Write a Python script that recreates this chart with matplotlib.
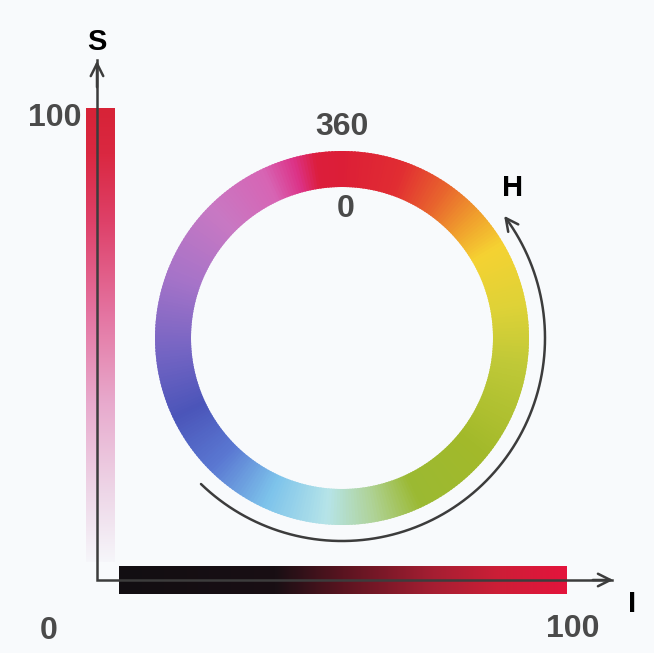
import numpy as np
import matplotlib
matplotlib.use("Agg")
import matplotlib.pyplot as plt
from matplotlib.patches import Wedge, FancyArrowPatch
from matplotlib.path import Path

# hue ring: angle clockwise from top (deg) -> colour
hue_angles = [0, 20, 35, 48, 60, 80, 100, 130, 155, 170, 185, 205, 225, 245, 265, 290, 315, 335, 345, 352, 360]
hue_colors = [(220, 30, 55), (225, 45, 50), (232, 100, 45), (240, 160, 45), (245, 210, 50),
              (222, 210, 55), (190, 200, 55), (162, 185, 42), (155, 185, 50), (175, 210, 150),
              (182, 228, 232), (125, 195, 235), (90, 120, 210), (75, 85, 185), (115, 100, 195),
              (165, 115, 200), (200, 120, 195), (215, 100, 180), (220, 50, 135), (220, 30, 60),
              (220, 30, 55)]

# saturation bar: 0 (bottom) .. 1 (top)
sat_pos = [0.0, 0.15, 0.35, 0.55, 0.75, 0.9, 1.0]
sat_colors = [(246, 246, 250), (238, 215, 232), (232, 170, 205), (228, 115, 160),
              (222, 65, 105), (218, 40, 65), (215, 35, 55)]

# intensity bar: 0 (left) .. 1 (right)
int_pos = [0.0, 0.35, 0.5, 0.7, 0.85, 1.0]
int_colors = [(18, 14, 18), (25, 15, 20), (90, 20, 32), (165, 30, 50), (205, 30, 55), (228, 20, 60)]

hue_labels = ["360", "0", "H"]
axis_labels = ["S", "I"]
tick_labels = ["0", "100"]

BG = "#f8fafc"
INK = "#3c3c3c"


def interp_colors(pos, cols, t):
    cols = np.array(cols) / 255.0
    return np.stack([np.interp(t, pos, cols[:, k]) for k in range(3)], axis=-1)


fig = plt.figure(figsize=(6.54, 6.53), dpi=100, facecolor=BG)
ax = fig.add_axes([0, 0, 1, 1])
ax.set_facecolor(BG)
ax.set_xlim(0, 654)
ax.set_ylim(653, 0)
ax.axis("off")

# colour ring
cx, cy, r_out, r_in = 342, 338, 187, 151
steps = np.arange(0, 360, 1.0)
ring_cols = interp_colors(hue_angles, hue_colors, steps + 0.5)
for a, c in zip(steps, ring_cols):
    ax.add_patch(Wedge((cx, cy), r_out, -90 + a - 0.3, -90 + a + 1.3,
                       width=r_out - r_in, facecolor=c, edgecolor="none"))

# saturation bar (vertical)
t = np.linspace(1, 0, 300)
sat_img = interp_colors(sat_pos, sat_colors, t)[:, None, :]
ax.imshow(sat_img, extent=[86, 115, 562, 108], aspect="auto", interpolation="bilinear", zorder=2)

# intensity bar (horizontal)
t = np.linspace(0, 1, 400)
int_img = interp_colors(int_pos, int_colors, t)[None, :, :]
ax.imshow(int_img, extent=[119, 567, 594, 566], aspect="auto", interpolation="bilinear", zorder=2)

# axes arrows
ox, oy = 97, 580
ax.plot([ox, ox, 612], [60, oy, oy], color=INK, lw=1.8, zorder=3, solid_joinstyle="miter")
ax.add_patch(FancyArrowPatch((ox, 90), (ox, 58), arrowstyle="->,head_length=9,head_width=4.5",
                             color=INK, lw=1.8, zorder=4, mutation_scale=1))
ax.add_patch(FancyArrowPatch((590, oy), (616, oy), arrowstyle="->,head_length=9,head_width=4.5",
                             color=INK, lw=1.8, zorder=4, mutation_scale=1))

# hue arc arrow
r_arc = 203
th = np.radians(np.linspace(226, 397, 200))
pts = np.column_stack([cx + r_arc * np.cos(th), cy - r_arc * np.sin(th)])
ax.add_patch(FancyArrowPatch(path=Path(pts), arrowstyle="->,head_length=9,head_width=4.5",
                             color=INK, lw=1.8, zorder=4, mutation_scale=1))

fam = ["Liberation Sans", "DejaVu Sans"]
num_style = dict(fontsize=23, fontweight="bold", color="#4a4a4a", family=fam,
                 ha="center", va="center")
lab_style = dict(fontsize=21, fontweight="bold", color="black", family=fam,
                 ha="center", va="center")

ax.text(342, 127, hue_labels[0], **num_style)
ax.text(346, 209, hue_labels[1], **num_style)
ax.text(513, 188, hue_labels[2], **lab_style)
ax.text(97, 42, axis_labels[0], **lab_style)
ax.text(632, 604, axis_labels[1], **lab_style)
ax.text(55, 118, tick_labels[1], **num_style)
ax.text(49, 631, tick_labels[0], **num_style)
ax.text(573, 629, tick_labels[1], **num_style)

fig.savefig("out.png", dpi=100, facecolor=BG)
